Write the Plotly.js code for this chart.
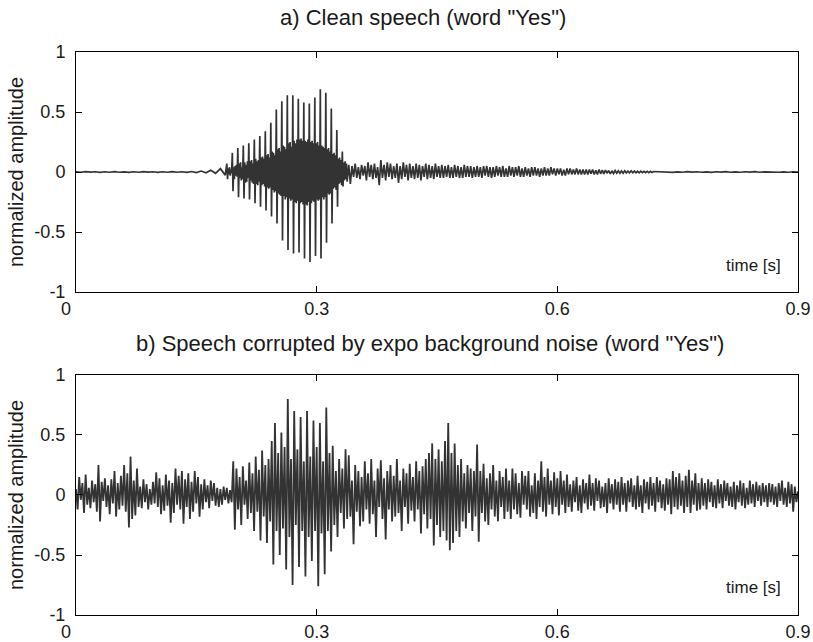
<!DOCTYPE html>
<html>
<head>
<meta charset="utf-8">
<script src="https://cdn.plot.ly/plotly-3.0.1.min.js"></script>
<style>html,body{margin:0;padding:0;background:#fff;}#chart{width:813px;height:642px;}</style>
</head>
<body>
<div id="chart"></div>
<script>
// ---------- tick labels ----------
const xTickVals = [0, 0.3, 0.6, 0.9];
const xTickText = ['0\u00a0\u00a0\u00a0\u00a0', '0.3', '0.6', '0.9'];
const yTickVals = [-1, -0.5, 0, 0.5, 1];
const yTickText = ['-1', '-0.5', '0', '0.5', '1'];

// ---------- a) clean speech ----------
// silence before the word (t = 0 .. 0.186 s, step 0.006 s)
const cleanQuietStart = 0, cleanQuietStep = 0.006;
const cleanQuiet = [0.002,-0.002,0.003,-0.001,0.002,-0.003,0.002,-0.002,0.003,-0.002,
  0.001,-0.003,0.002,-0.002,0.003,-0.001,0.002,-0.003,0.002,-0.002,
  0.003,-0.002,0.002,-0.003,0.004,-0.005,0.008,-0.006,0.015,-0.011,0.028,-0.026];

// voiced part "ye" (t = 0.188 .. 0.339 s, step 0.000857 s; 8 samples per pitch period)
const cleanVoicedStart = 0.188, cleanVoicedStep = 0.000857;
const cleanVoiced = [
  0.07,-0.06,0.03,-0.02,0.04,-0.03,0.02,-0.01,
  0.16,-0.16,0.04,-0.06,0.05,-0.03,0.06,-0.04,
  0.20,-0.21,0.07,-0.05,0.08,-0.07,0.04,-0.06,
  0.22,-0.22,0.08,-0.09,0.06,-0.08,0.09,-0.05,
  0.24,-0.23,0.09,-0.07,0.10,-0.09,0.07,-0.10,
  0.27,-0.26,0.11,-0.10,0.09,-0.11,0.10,-0.08,
  0.30,-0.29,0.12,-0.11,0.13,-0.10,0.11,-0.12,
  0.34,-0.32,0.14,-0.13,0.15,-0.14,0.12,-0.13,
  0.41,-0.37,0.17,-0.15,0.16,-0.17,0.14,-0.16,
  0.52,-0.43,0.19,-0.18,0.20,-0.19,0.17,-0.20,
  0.59,-0.57,0.22,-0.20,0.21,-0.23,0.19,-0.21,
  0.64,-0.65,0.24,-0.22,0.25,-0.24,0.21,-0.23,
  0.64,-0.68,0.26,-0.25,0.24,-0.26,0.27,-0.24,
  0.61,-0.67,0.27,-0.26,0.28,-0.25,0.26,-0.27,
  0.58,-0.72,0.26,-0.27,0.25,-0.28,0.27,-0.25,
  0.57,-0.75,0.25,-0.26,0.26,-0.24,0.24,-0.25,
  0.62,-0.70,0.24,-0.23,0.25,-0.24,0.22,-0.23,
  0.69,-0.72,0.22,-0.21,0.21,-0.23,0.20,-0.21,
  0.66,-0.59,0.19,-0.18,0.20,-0.19,0.17,-0.18,
  0.53,-0.43,0.15,-0.14,0.16,-0.13,0.14,-0.15,
  0.35,-0.29,0.11,-0.10,0.12,-0.09,0.10,-0.11,
  0.17,-0.12,0.08,-0.07,0.09,-0.06,0.07,-0.08];

// fricative "s" (t = 0.34 .. 0.72 s, step 0.002 s)
const cleanFricStart = 0.34, cleanFricStep = 0.002;
const cleanFric = [
  0.06,-0.1,0.05,-0.04,0.07,-0.05,0.04,-0.06,0.06,-0.03,
  0.05,-0.07,0.08,-0.04,0.06,-0.06,0.07,-0.05,0.04,-0.11,
  0.1,-0.05,0.06,-0.07,0.08,-0.04,0.07,-0.06,0.05,-0.05,
  0.07,-0.09,0.05,-0.06,0.08,-0.04,0.06,-0.07,0.07,-0.05,
  0.05,-0.06,0.07,-0.05,0.06,-0.07,0.05,-0.04,0.07,-0.06,
  0.06,-0.05,0.05,-0.06,0.07,-0.04,0.05,-0.05,0.06,-0.05,
  0.05,-0.04,0.06,-0.05,0.04,-0.05,0.06,-0.04,0.05,-0.05,
  0.04,-0.05,0.06,-0.04,0.05,-0.04,0.05,-0.05,0.04,-0.04,
  0.05,-0.04,0.04,-0.05,0.05,-0.03,0.05,-0.04,0.04,-0.05,
  0.04,-0.04,0.05,-0.03,0.04,-0.04,0.05,-0.04,0.03,-0.04,
  0.05,-0.03,0.04,-0.04,0.04,-0.03,0.05,-0.04,0.03,-0.04,
  0.04,-0.03,0.03,-0.04,0.04,-0.03,0.04,-0.03,0.03,-0.04,
  0.03,-0.03,0.04,-0.03,0.03,-0.03,0.04,-0.02,0.03,-0.03,
  0.03,-0.02,0.03,-0.03,0.02,-0.03,0.03,-0.02,0.03,-0.02,
  0.02,-0.02,0.03,-0.02,0.02,-0.02,0.02,-0.02,0.02,-0.02,
  0.02,-0.015,0.02,-0.02,0.015,-0.02,0.02,-0.015,0.015,-0.015,
  0.015,-0.01,0.012,-0.015,0.01,-0.012,0.012,-0.01,0.01,-0.01,
  0.008,-0.01,0.01,-0.008,0.008,-0.008,0.01,-0.006,0.008,-0.007,
  0.006,-0.007,0.007,-0.005,0.006,-0.006,0.005,-0.005,0.006,-0.004,
  0.004];

// silence after the word (t = 0.726 .. 0.9 s, step 0.006 s)
const cleanTailStart = 0.726, cleanTailStep = 0.006;
const cleanTail = [0.002,-0.002,0.002,-0.003,0.001,-0.002,0.003,-0.001,0.002,-0.002,
  0.001,-0.003,0.002,-0.001,0.003,-0.002,0.001,-0.002,0.002,-0.001,
  0.003,-0.002,0.001,-0.001,0.002,-0.002,0.001,-0.002,0.002,-0.001];

// ---------- b) speech + expo noise (t = 0 .. 0.9 s, step 0.002 s) ----------
const noisyStart = 0, noisyStep = 0.002;
const noisy = [
  0.05,-0.12,0.15,-0.04,0.1,-0.15,0.17,-0.08,0.06,-0.11,
  0.12,-0.06,0.09,-0.14,0.25,-0.22,0.11,-0.05,0.14,-0.1,
  0.08,-0.16,0.13,-0.07,0.2,-0.18,0.1,-0.12,0.16,-0.09,
  0.25,-0.14,0.18,-0.27,0.32,-0.2,0.12,-0.17,0.22,-0.1,
  0.07,-0.11,0.13,-0.06,0.09,-0.12,0.05,-0.08,0.11,-0.07,
  0.19,-0.1,0.14,-0.16,0.08,-0.13,0.17,-0.09,0.12,-0.23,
  0.1,-0.15,0.22,-0.08,0.16,-0.12,0.2,-0.24,0.13,-0.1,
  0.18,-0.2,0.11,-0.14,0.2,-0.07,0.15,-0.18,0.09,-0.12,
  0.13,-0.06,0.08,-0.11,0.12,-0.05,0.1,-0.09,0.06,-0.1,
  0.05,-0.08,0.07,-0.04,0.06,-0.07,0.04,-0.06,0.28,-0.29,
  0.22,-0.12,0.15,-0.25,0.24,-0.08,0.12,-0.2,0.27,-0.15,
  0.18,-0.3,0.32,-0.14,0.21,-0.38,0.37,-0.18,0.25,-0.4,
  0.3,-0.22,0.45,-0.58,0.6,-0.3,0.35,-0.5,0.52,-0.28,
  0.4,-0.62,0.8,-0.35,0.3,-0.75,0.7,-0.25,0.38,-0.6,
  0.65,-0.3,0.28,-0.68,0.7,-0.35,0.32,-0.55,0.62,-0.3,
  0.4,-0.76,0.6,-0.32,0.28,-0.66,0.73,-0.3,0.35,-0.47,
  0.41,-0.25,0.2,-0.35,0.3,-0.15,0.22,-0.28,0.38,-0.2,
  0.33,-0.18,0.12,-0.41,0.25,-0.14,0.2,-0.26,0.15,-0.22,
  0.28,-0.12,0.18,-0.24,0.3,-0.16,0.12,-0.35,0.22,-0.1,
  0.29,-0.2,0.14,-0.37,0.2,-0.12,0.25,-0.22,0.16,-0.18,
  0.3,-0.15,0.12,-0.3,0.22,-0.1,0.18,-0.24,0.26,-0.13,
  0.15,-0.22,0.28,-0.12,0.2,-0.32,0.24,-0.16,0.3,-0.28,
  0.35,-0.2,0.43,-0.42,0.3,-0.25,0.38,-0.35,0.28,-0.3,
  0.45,-0.38,0.6,-0.46,0.35,-0.4,0.43,-0.3,0.25,-0.35,
  0.3,-0.22,0.18,-0.28,0.25,-0.15,0.22,-0.3,0.2,-0.18,
  0.42,-0.39,0.2,-0.15,0.26,-0.22,0.14,-0.25,0.18,-0.12,
  0.25,-0.18,0.12,-0.22,0.2,-0.1,0.15,-0.2,0.22,-0.14,
  0.12,-0.2,0.22,-0.12,0.18,-0.16,0.1,-0.19,0.2,-0.08,
  0.16,-0.12,0.2,-0.18,0.08,-0.15,0.18,-0.2,0.12,-0.1,
  0.28,-0.14,0.15,-0.18,0.22,-0.08,0.12,-0.16,0.19,-0.1,
  0.14,-0.17,0.2,-0.08,0.12,-0.15,0.17,-0.1,0.09,-0.14,
  0.12,-0.06,0.15,-0.13,0.08,-0.15,0.13,-0.07,0.1,-0.12,
  0.17,-0.09,0.1,-0.13,0.14,-0.05,0.12,-0.11,0.07,-0.1,
  0.1,-0.15,0.14,-0.07,0.09,-0.12,0.13,-0.08,0.11,-0.14,
  0.15,-0.08,0.1,-0.14,0.12,-0.06,0.14,-0.1,0.08,-0.12,
  0.16,-0.1,0.08,-0.15,0.13,-0.07,0.11,-0.12,0.15,-0.09,
  0.1,-0.14,0.15,-0.06,0.12,-0.11,0.09,-0.13,0.14,-0.08,
  0.13,-0.16,0.2,-0.1,0.15,-0.12,0.18,-0.09,0.12,-0.15,
  0.16,-0.1,0.21,-0.15,0.12,-0.08,0.18,-0.13,0.1,-0.12,
  0.14,-0.09,0.1,-0.12,0.13,-0.06,0.11,-0.1,0.08,-0.11,
  0.13,-0.07,0.09,-0.11,0.12,-0.05,0.1,-0.09,0.07,-0.1,
  0.11,-0.12,0.08,-0.06,0.12,-0.09,0.1,-0.11,0.06,-0.08,
  0.12,-0.07,0.09,-0.1,0.11,-0.05,0.08,-0.09,0.1,-0.06,
  0.08,-0.1,0.1,-0.06,0.09,-0.08,0.07,-0.1,0.1,-0.05,
  0.12,-0.08,0.06,-0.1,0.11,-0.07,0.09,-0.14,0.07,-0.06,
  0.03];

// ---------- build sample times ----------
function times(start, step, vals) { return vals.map((v, i) => +(start + i * step).toFixed(6)); }
const cleanX = [].concat(
  times(cleanQuietStart, cleanQuietStep, cleanQuiet),
  times(cleanVoicedStart, cleanVoicedStep, cleanVoiced),
  times(cleanFricStart, cleanFricStep, cleanFric),
  times(cleanTailStart, cleanTailStep, cleanTail));
const cleanY = [].concat(cleanQuiet, cleanVoiced, cleanFric, cleanTail);
const noisyX = times(noisyStart, noisyStep, noisy);

const lineColor = '#333333';
const FONT = 'Liberation Sans, Arial, Helvetica, sans-serif';
const TXT = '#1a1a1a';

const traces = [
  {x: cleanX, y: cleanY, type: 'scatter', mode: 'lines', xaxis: 'x', yaxis: 'y',
   line: {color: lineColor, width: 1.7}, hoverinfo: 'skip'},
  {x: noisyX, y: noisy, type: 'scatter', mode: 'lines', xaxis: 'x2', yaxis: 'y2',
   line: {color: lineColor, width: 1.8}, hoverinfo: 'skip'}
];

function xAxis(anchor) {
  return {anchor: anchor, domain: [0, 1], range: [0, 0.9], tickmode: 'array',
    tickvals: xTickVals, ticktext: xTickText, ticks: 'inside', ticklen: 6, tickcolor: '#000',
    showline: true, linecolor: '#000', linewidth: 1, mirror: 'ticks', showgrid: false,
    zeroline: false, tickfont: {family: FONT, size: 18, color: TXT}, fixedrange: true};
}
function yAxis(anchor, domain) {
  return {anchor: anchor, domain: domain, range: [-1, 1], tickmode: 'array',
    tickvals: yTickVals, ticktext: yTickText, ticks: 'inside', ticklen: 6, tickcolor: '#000',
    showline: true, linecolor: '#000', linewidth: 1, mirror: 'ticks', showgrid: false,
    zeroline: false, tickfont: {family: FONT, size: 18, color: TXT},
    ticklabelstandoff: 6, fixedrange: true};
}

const layout = {
  width: 813, height: 642,
  margin: {l: 76, r: 15, t: 52, b: 27},
  paper_bgcolor: '#fff', plot_bgcolor: '#fff',
  showlegend: false,
  xaxis: xAxis('y'),
  yaxis: yAxis('x', [0.5737, 1]),
  xaxis2: xAxis('y2'),
  yaxis2: yAxis('x2', [0, 0.4263]),
  annotations: [
    {text: 'a) Clean speech (word "Yes")', xref: 'paper', yref: 'paper', x: 0.48, y: 1, yshift: 35,
     xanchor: 'center', yanchor: 'middle', showarrow: false, font: {family: FONT, size: 22, color: TXT}},
    {text: 'b) Speech corrupted by expo background noise (word "Yes")', xref: 'paper', yref: 'paper', x: 0.49, y: 0.4263, yshift: 31,
     xanchor: 'center', yanchor: 'middle', showarrow: false, font: {family: FONT, size: 22, color: TXT}},
    {text: 'normalized amplitude', xref: 'paper', yref: 'y domain', x: -0.083, y: 0.5, textangle: -90,
     xanchor: 'center', yanchor: 'middle', showarrow: false, font: {family: FONT, size: 20, color: TXT}},
    {text: 'normalized amplitude', xref: 'paper', yref: 'y2 domain', x: -0.083, y: 0.5, textangle: -90,
     xanchor: 'center', yanchor: 'middle', showarrow: false, font: {family: FONT, size: 20, color: TXT}},
    {text: 'time [s]', xref: 'x', yref: 'y', x: 0.845, y: -0.78, xanchor: 'center', yanchor: 'middle',
     showarrow: false, font: {family: FONT, size: 17, color: TXT}},
    {text: 'time [s]', xref: 'x2', yref: 'y2', x: 0.845, y: -0.77, xanchor: 'center', yanchor: 'middle',
     showarrow: false, font: {family: FONT, size: 17, color: TXT}}
  ]
};

Plotly.newPlot('chart', traces, layout, {displayModeBar: false, staticPlot: true});
</script>
</body>
</html>
